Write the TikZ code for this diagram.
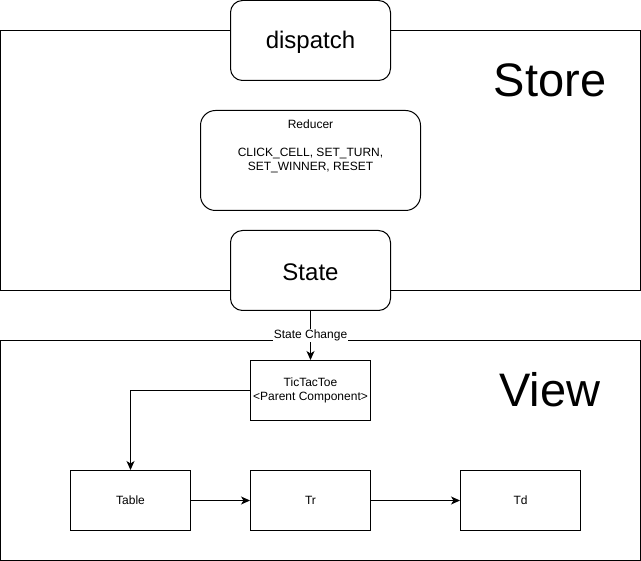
\documentclass[tikz,border=0pt]{standalone}
\usepackage{fontspec}
\setmainfont{Liberation Sans}
\usetikzlibrary{arrows.meta}
\begin{document}
\begin{tikzpicture}[x=1pt,y=-1pt,line width=1pt,
  box/.style={draw,fill=white,inner sep=0pt,align=center},
  rbox/.style={box,rounded corners=12pt},
  arr/.style={-{Stealth[length=9pt,width=8pt,inset=2.5pt]}},
  small/.style={font=\fontsize{12}{14}\selectfont},
  big/.style={font=\fontsize{24}{28}\selectfont},
  huge/.style={font=\fontsize{47}{54}\selectfont}]
\useasboundingbox (0,0) rectangle (641,561);
% containers
\draw (0.5,30.5) rectangle (640.5,290.5);
\draw (0.5,340.5) rectangle (640.5,560.5);
\node[huge] (storelbl) at (550,80) {Store};
\node[huge] (viewlbl) at (550,390) {View};
% store nodes
\node[rbox,minimum width=160pt,minimum height=80pt,big] (dispatch) at (310.5,40.5) {};
\node[big] (disptext) at (310.5,42) {dispatch};
\node[rbox,rounded corners=15pt,minimum width=220pt,minimum height=100pt] (reducer) at (310.5,160.5) {};
\node[small] (redtitle) at (310.5,124) {Reducer};
\node[small,align=center] (redacts) at (310.5,160.5) {CLICK\_CELL, SET\_TURN,\\SET\_WINNER, RESET};
\node[rbox,minimum width=160pt,minimum height=80pt] (state) at (310.5,270.5) {};
\node[big] (statetext) at (310.5,272) {State};
% view nodes
\node[box,minimum width=120pt,minimum height=60pt,small] (ttt) at (310.5,390.5) {TicTacToe\\<Parent Component>};
\node[box,minimum width=120pt,minimum height=60pt,small] (table) at (130.5,500.5) {Table};
\node[box,minimum width=120pt,minimum height=60pt,small] (tr) at (310.5,500.5) {Tr};
\node[box,minimum width=120pt,minimum height=60pt,small] (td) at (520.5,500.5) {Td};
% connectors
\draw[arr] (state.south) -- node[fill=white,inner sep=1pt,small,pos=0.5] {State Change} (ttt.north);
\draw[arr] (ttt.west) -| (table.north);
\draw[arr] (table.east) -- (tr.west);
\draw[arr] (tr.east) -- (td.west);
\end{tikzpicture}
\end{document}
